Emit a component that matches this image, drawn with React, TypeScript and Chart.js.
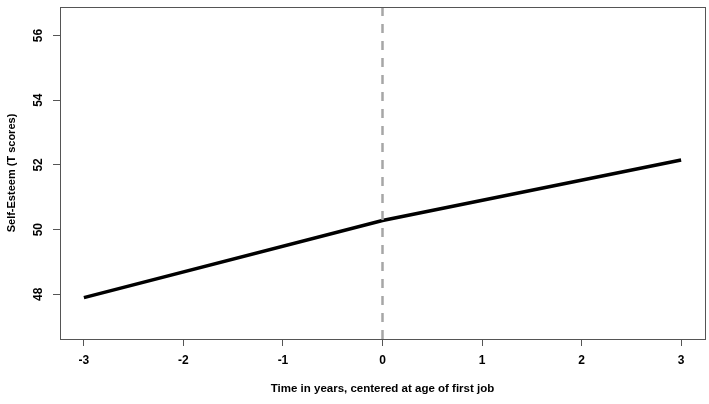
import React, { useEffect, useRef } from "react";
import { Chart, registerables } from "chart.js";

Chart.register(...registerables);

const timeYears = [-3, 0, 3];
const selfEsteem = [47.9, 50.28, 52.15];
const xTicks = [-3, -2, -1, 0, 1, 2, 3];
const yTicks = [48, 50, 52, 54, 56];
const xLimits = [-3.24, 3.24];
const yLimits = [46.62, 56.88];
const refLineX = [0, 0];
const xTitle = "Time in years, centered at age of first job";
const yTitle = "Self-Esteem (T scores)";

const FONT = "'Liberation Sans', Arial, sans-serif";
const AXIS_COLOR = "#555555";

const boxPlugin = {
  id: "boxPlugin",
  afterDatasetsDraw(chart: any) {
    const { ctx, chartArea } = chart;
    ctx.save();
    ctx.strokeStyle = AXIS_COLOR;
    ctx.lineWidth = 1;
    ctx.strokeRect(
      Math.round(chartArea.left) + 0.5,
      Math.round(chartArea.top) + 0.5,
      Math.round(chartArea.right - chartArea.left),
      Math.round(chartArea.bottom - chartArea.top)
    );
    // y tick labels, rotated like R's las=0
    const yScale = chart.scales.y;
    ctx.fillStyle = "#000000";
    ctx.font = `bold 12px ${FONT}`;
    ctx.textAlign = "center";
    ctx.textBaseline = "middle";
    yTicks.forEach((v) => {
      const py = yScale.getPixelForValue(v);
      ctx.save();
      ctx.translate(39, py);
      ctx.rotate(-Math.PI / 2);
      ctx.fillText(String(v), 0, 0);
      ctx.restore();
    });
    ctx.restore();
  },
};

export default function App() {
  const canvasRef = useRef<HTMLCanvasElement | null>(null);

  useEffect(() => {
    document.body.style.margin = "0";
    const canvas = canvasRef.current;
    if (!canvas) return;
    const chart = new Chart(canvas, {
      type: "line",
      data: {
        datasets: [
          {
            label: "ref",
            data: refLineX.map((x, i) => ({ x, y: yLimits[i] })),
            borderColor: "#a6a6a6",
            borderWidth: 2.5,
            borderDash: [9, 8],
            pointRadius: 0,
            fill: false,
          },
          {
            label: "Self-Esteem",
            data: timeYears.map((x, i) => ({ x, y: selfEsteem[i] })),
            borderColor: "#000000",
            borderWidth: 3.5,
            pointRadius: 0,
            fill: false,
            tension: 0,
          },
        ],
      },
      options: {
        responsive: false,
        animation: false,
        events: [],
        layout: { padding: { top: 7, right: 4, left: 0, bottom: 0 } },
        plugins: {
          legend: { display: false },
          tooltip: { enabled: false },
        },
        scales: {
          x: {
            type: "linear",
            min: xLimits[0],
            max: xLimits[1],
            afterBuildTicks: (scale: any) => {
              scale.ticks = xTicks.map((v) => ({ value: v }));
            },
            afterFit: (scale: any) => {
              scale.height = 65;
            },
            grid: {
              display: true,
              drawOnChartArea: false,
              drawTicks: true,
              tickLength: 7,
              color: AXIS_COLOR,
              lineWidth: 1,
            },
            border: { display: false },
            ticks: {
              color: "#000000",
              font: { family: FONT, size: 12, weight: "bold" },
              padding: 7,
              maxRotation: 0,
              autoSkip: false,
              callback: (v: any) => String(v),
            },
            title: {
              display: true,
              text: xTitle,
              color: "#000000",
              font: { family: FONT, size: 11.5, weight: "bold" },
              padding: { top: 0, bottom: 8 },
            },
          },
          y: {
            type: "linear",
            min: yLimits[0],
            max: yLimits[1],
            afterBuildTicks: (scale: any) => {
              scale.ticks = yTicks.map((v) => ({ value: v }));
            },
            afterFit: (scale: any) => {
              scale.width = 60;
            },
            grid: {
              display: true,
              drawOnChartArea: false,
              drawTicks: true,
              tickLength: 7,
              color: AXIS_COLOR,
              lineWidth: 1,
            },
            border: { display: false },
            ticks: { display: false },
            title: {
              display: true,
              text: yTitle,
              color: "#000000",
              font: { family: FONT, size: 11, weight: "bold" },
              padding: { top: 5, bottom: 0 },
            },
          },
        },
      },
      plugins: [boxPlugin],
    });
    return () => chart.destroy();
  }, []);

  return (
    <div style={{ position: "absolute", left: 0, top: 0, width: 709, height: 404 }}>
      <canvas ref={canvasRef} width={709} height={404} style={{ display: "block" }} />
    </div>
  );
}
